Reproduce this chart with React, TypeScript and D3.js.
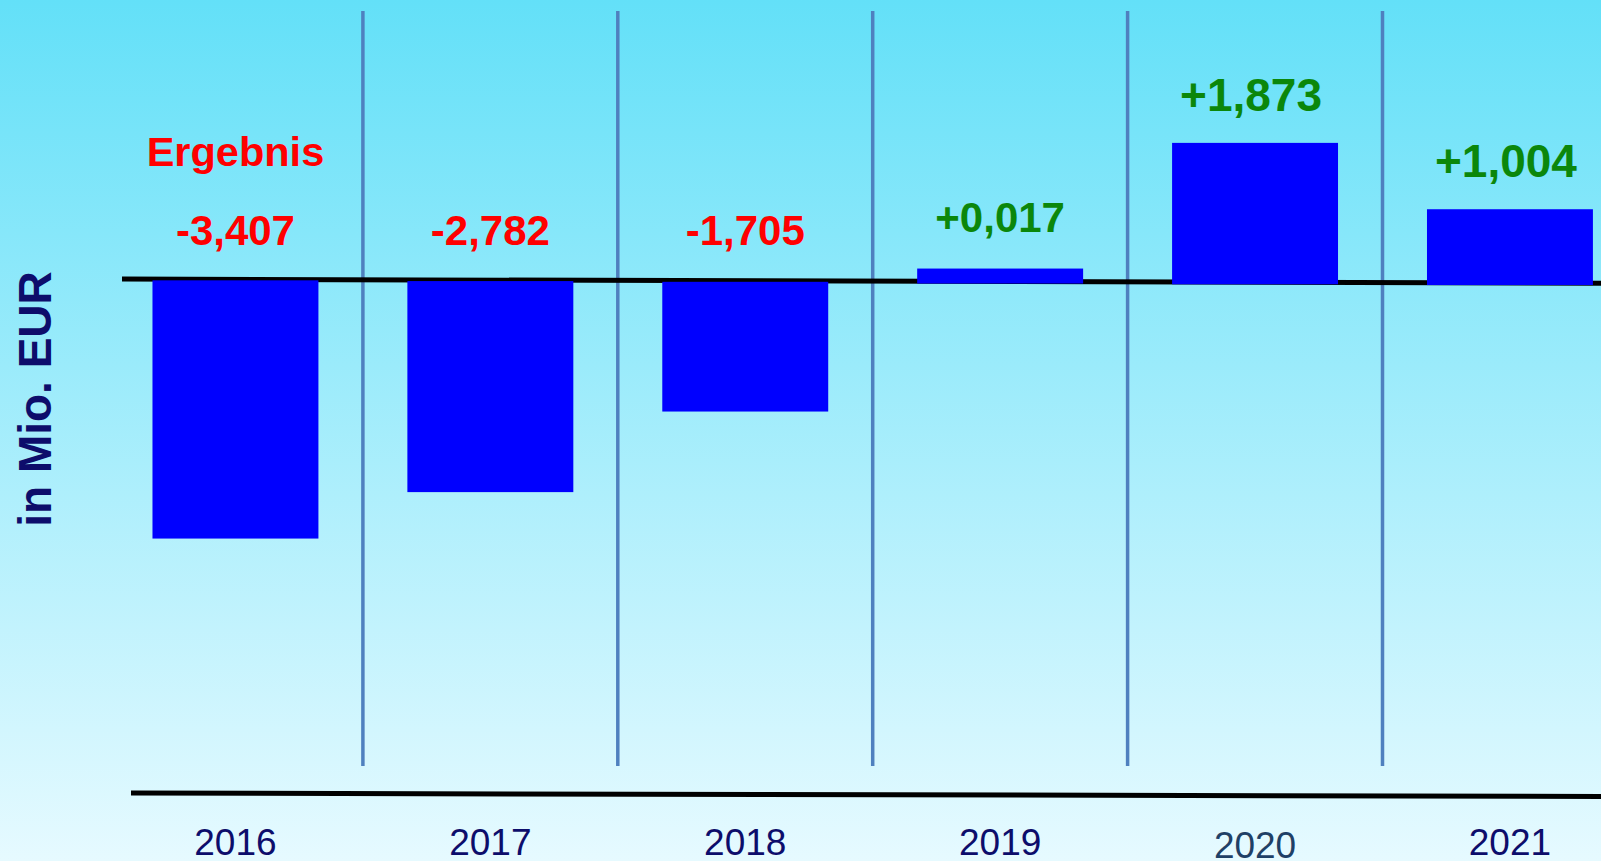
import React from "react";
import * as d3 from "d3";

const years: string[] = ["2016", "2017", "2018", "2019", "2020", "2021"];
const results: number[] = [-3.407, -2.782, -1.705, 0.017, 1.873, 1.004];
const resultLabels: string[] = ["-3,407", "-2,782", "-1,705", "+0,017", "+1,873", "+1,004"];
const seriesTitle = "Ergebnis";
const axisTitle = "in Mio. EUR";
const emphasizedYears: string[] = ["2020", "2021"];

const W = 1601;
const H = 861;
const FONT = "'Liberation Sans', Arial, Helvetica, sans-serif";

export default function App() {
  React.useEffect(() => {
    document.body.style.margin = "0";
    document.body.style.overflow = "hidden";
  }, []);

  const x = d3
    .scaleBand<string>()
    .domain(years)
    .range([108, 1637.4])
    .paddingInner(0.349)
    .paddingOuter(0.1745);

  // zero line drawn slightly tilted as in the reference
  const zeroLineX0 = 122;
  const zeroLineX1 = W;
  const zeroTilt = d3.scaleLinear().domain([zeroLineX0, zeroLineX1]).range([279, 283.3]);

  const y = d3.scaleLinear().domain([-4, 3]).range([282 + 4 * 75.5, 282 - 3 * 75.5]);
  const y0 = y(0);

  const minBar = 15;

  const bw = x.bandwidth();
  const step = x.step();

  const barExtent = (yr: string, v: number) => {
    const cx = (x(yr) as number) + bw / 2;
    const off = zeroTilt(cx) + 2 - y0;
    if (v >= 0) {
      const bottom = y0 + off;
      const top = Math.min(y(v) + off, bottom - minBar);
      return { top, bottom };
    }
    return { top: y0 + off - 1, bottom: y(v) + off };
  };

  return (
    <svg
      width={W}
      height={H}
      style={{ position: "absolute", left: 0, top: 0, display: "block" }}
      xmlns="http://www.w3.org/2000/svg"
    >
      <defs>
        <linearGradient id="bg" x1="0" y1="0" x2="0" y2="1">
          <stop offset="0" stopColor="#63e0f8" />
          <stop offset="1" stopColor="#e6faff" />
        </linearGradient>
      </defs>
      <rect x={0} y={0} width={W} height={H} fill="url(#bg)" />

      {/* dividers between years */}
      {years.slice(1).map((yr) => {
        const xx = (x(yr) as number) - (step - bw) / 2;
        return (
          <line
            key={"div" + yr}
            x1={xx}
            x2={xx}
            y1={11}
            y2={766}
            stroke="#4f80bf"
            strokeWidth={3.5}
          />
        );
      })}

      {/* zero line */}
      <line
        x1={zeroLineX0}
        x2={zeroLineX1}
        y1={zeroTilt(zeroLineX0)}
        y2={zeroTilt(zeroLineX1)}
        stroke="#000"
        strokeWidth={5}
      />

      {/* bottom axis line */}
      <line x1={131} x2={W} y1={793} y2={796.5} stroke="#000" strokeWidth={5} />

      {/* bars */}
      {years.map((yr, i) => {
        const { top, bottom } = barExtent(yr, results[i]);
        return (
          <rect
            key={"bar" + yr}
            x={x(yr) as number}
            y={top}
            width={bw}
            height={bottom - top}
            fill="#0000ff"
          />
        );
      })}

      {/* value labels */}
      {years.map((yr, i) => {
        const v = results[i];
        const cx = (x(yr) as number) + bw / 2;
        const big = emphasizedYears.includes(yr);
        const { top } = barExtent(yr, v);
        const ly = v >= 0 ? top - (big ? 32 : 37) : y0 - 37;
        return (
          <text
            key={"lab" + yr}
            x={cx - (big ? 4 : 0)}
            y={ly}
            textAnchor="middle"
            fontFamily={FONT}
            fontWeight="bold"
            fontSize={big ? 46 : 42}
            fill={v >= 0 ? "#0b870b" : "#ff0000"}
          >
            {resultLabels[i]}
          </text>
        );
      })}

      {/* series title */}
      <text
        x={(x(years[0]) as number) + bw / 2}
        y={165.5}
        textAnchor="middle"
        fontFamily={FONT}
        fontWeight="bold"
        fontSize={41.5}
        fill="#ff0000"
      >
        {seriesTitle}
      </text>

      {/* year labels */}
      {years.map((yr) => {
        const cx = (x(yr) as number) + bw / 2;
        const special = yr === "2020";
        return (
          <text
            key={"yr" + yr}
            x={cx}
            y={special ? 858 : 854.5}
            textAnchor="middle"
            fontFamily={FONT}
            fontSize={37}
            fill={special ? "#1f4066" : "#0d0d6b"}
          >
            {yr}
          </text>
        );
      })}

      {/* axis title */}
      <text
        transform="translate(51, 399) rotate(-90)"
        textAnchor="middle"
        fontFamily={FONT}
        fontWeight="bold"
        fontSize={46}
        fill="#0d0d6b"
      >
        {axisTitle}
      </text>
    </svg>
  );
}
